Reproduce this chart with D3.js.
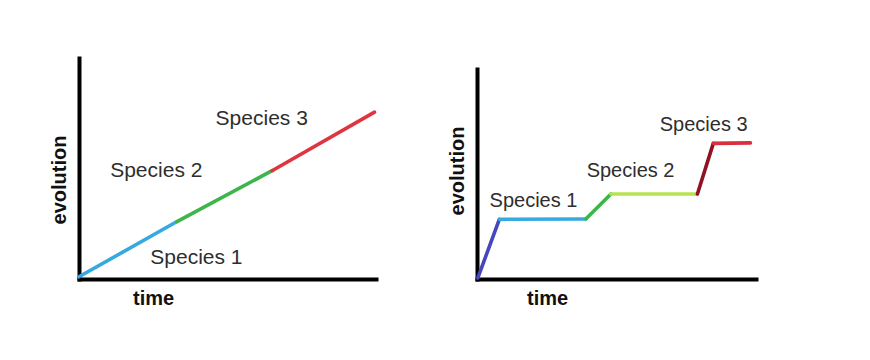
<!DOCTYPE html>
<html><head><meta charset="utf-8">
<script src="https://cdn.jsdelivr.net/npm/d3@7"></script>
<style>body{margin:0;background:#fff;} svg{display:block;}</style>
</head><body>
<svg id="c" width="870" height="360"></svg>
<script>
// ---- data ----
const panelNames = ["gradual", "punctuated"];
const axisTitleX = "time";
const axisTitleY = "evolution";
const speciesNames = ["Species 1", "Species 2", "Species 3"];

// left panel: gradual evolution (time, evolution)
const gradualTime = [0, 3.3, 6.5, 9.95];
const gradualEvol = [0.1, 2.6, 4.9, 7.55];
const gradualColors = ["#36a9e0", "#3db54a", "#de3540"];
const gradualLabelTime = [2.4, 1.05, 4.6];
const gradualLabelEvol = [0.68, 4.63, 6.97];

// right panel: punctuated equilibrium (time, evolution)
const punctTime = [0.03, 0.8, 3.9, 4.8, 7.9, 8.47, 9.8];
const punctEvol = [0.05, 2.84, 2.86, 4.05, 4.05, 6.46, 6.48];
const punctColors = ["#4646bd", "#36a9e0", "#3db54a", "#b6e34f", "#8e1222", "#d8303c"];
const punctLabelTime = [0.45, 3.93, 6.55];
const punctLabelEvol = [3.44, 4.87, 7.06];

// ---- drawing ----
const svg = d3.select("#c");

function panel(cfg) {
  const x = d3.scaleLinear().domain([0, 10]).range(cfg.xr);
  const y = d3.scaleLinear().domain([0, 10]).range(cfg.yr);
  const g = svg.append("g");

  const xAxis = d3.axisBottom(x).tickValues([]).tickSizeOuter(0);
  const yAxis = d3.axisLeft(y).tickValues([]).tickSizeOuter(0);
  g.append("g").attr("transform", `translate(0,${cfg.yr[0]})`).call(xAxis)
    .select(".domain").attr("stroke", "#000").attr("stroke-width", 4).attr("stroke-linecap", "square");
  g.append("g").attr("transform", `translate(${cfg.xr[0]},0)`).call(yAxis)
    .select(".domain").attr("stroke", "#000").attr("stroke-width", 4).attr("stroke-linecap", "square");

  const pts = cfg.t.map((t, i) => [x(t), y(cfg.e[i])]);
  const line = d3.line();
  cfg.colors.forEach((c, i) => {
    g.append("path").attr("d", line([pts[i], pts[i + 1]]))
      .attr("fill", "none").attr("stroke", c).attr("stroke-width", 3.6)
      .attr("stroke-linecap", "round");
  });

  speciesNames.forEach((s, i) => {
    g.append("text").attr("x", x(cfg.lt[i])).attr("y", y(cfg.le[i]))
      .attr("font-family", "Liberation Sans, Arial, sans-serif")
      .attr("font-size", cfg.fs).attr("fill", "#2e2e2e").text(s);
  });

  g.append("text").attr("x", cfg.timeX).attr("y", 305)
    .attr("font-family", "Liberation Sans, Arial, sans-serif").attr("font-weight", "bold")
    .attr("font-size", 20).attr("fill", "#111").text(axisTitleX);
  g.append("text").attr("transform", `translate(${cfg.evoX},${cfg.evoY}) rotate(-90)`)
    .attr("text-anchor", "middle")
    .attr("font-family", "Liberation Sans, Arial, sans-serif").attr("font-weight", "bold")
    .attr("font-size", 20).attr("fill", "#111").text(axisTitleY);
}

panel({xr: [79, 376], yr: [279, 58], t: gradualTime, e: gradualEvol, colors: gradualColors,
       lt: gradualLabelTime, le: gradualLabelEvol, fs: 21, timeX: 133, evoX: 66, evoY: 180});
panel({xr: [477, 756], yr: [279, 69], t: punctTime, e: punctEvol, colors: punctColors,
       lt: punctLabelTime, le: punctLabelEvol, fs: 20, timeX: 527, evoX: 464, evoY: 171});
</script>
</body></html>
